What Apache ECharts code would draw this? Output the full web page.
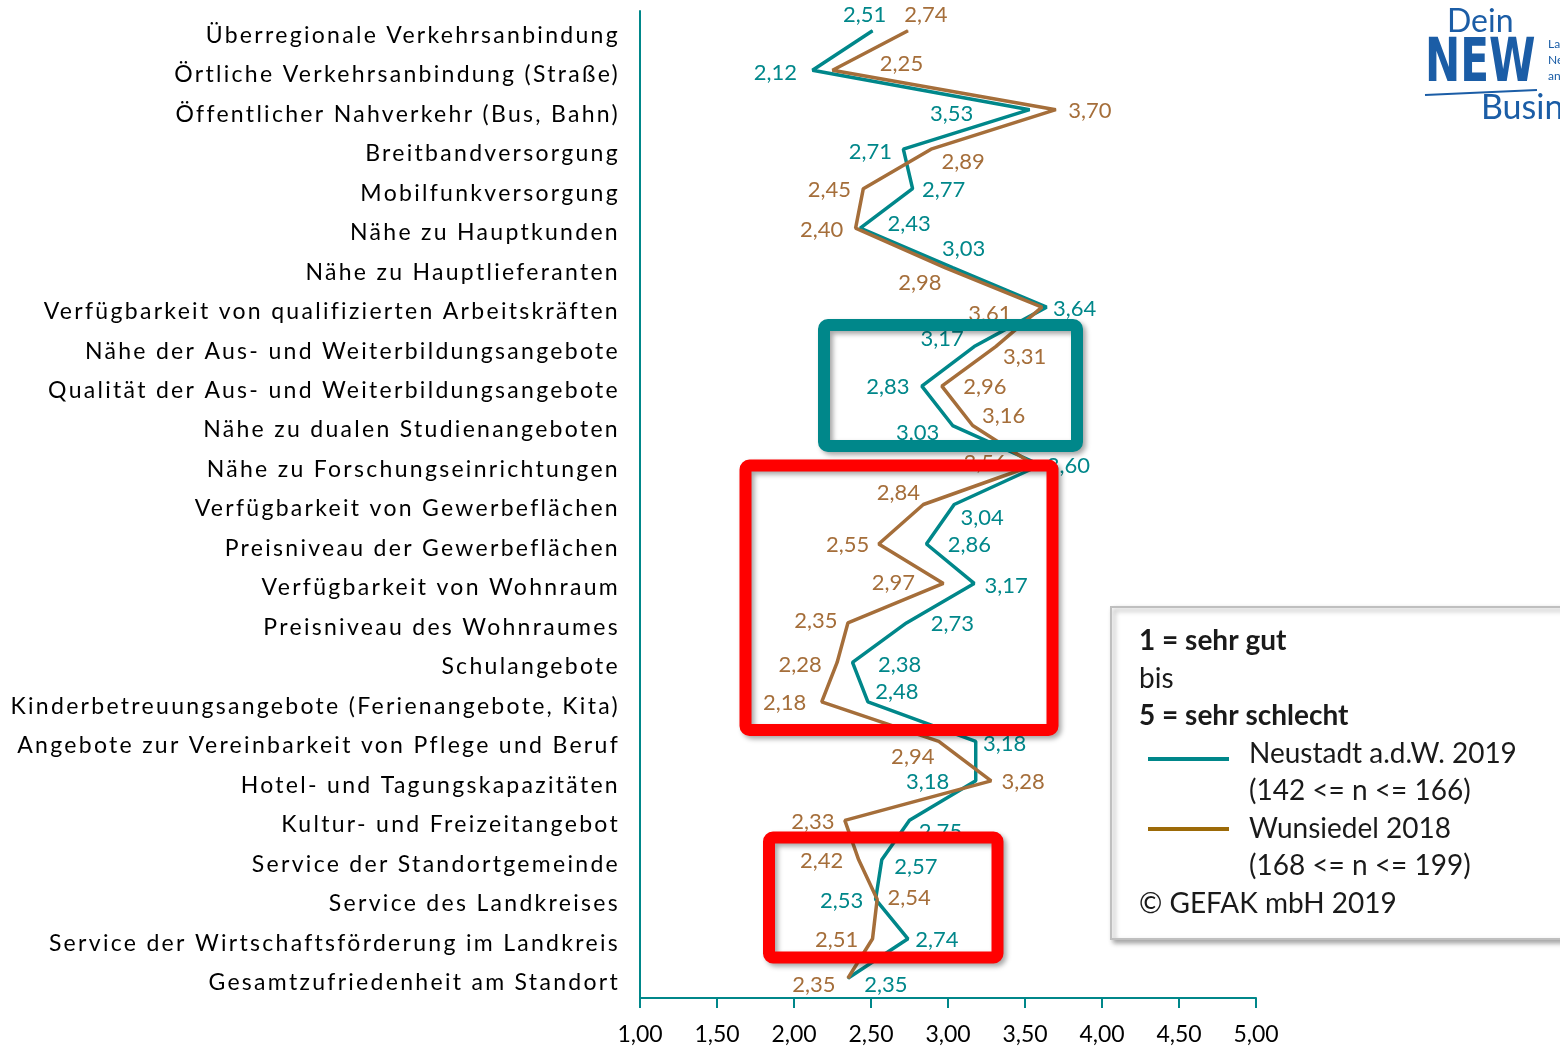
<!DOCTYPE html>
<html><head><meta charset="utf-8">
<script src="https://cdn.jsdelivr.net/npm/echarts@6/dist/echarts.min.js"></script>
<style>html,body{margin:0;padding:0;background:#fff}#c{width:1560px;height:1046px}</style>
</head><body><div id="c"></div>
<script>
const categories = [
  'Überregionale Verkehrsanbindung',
  'Örtliche Verkehrsanbindung (Straße)',
  'Öffentlicher Nahverkehr (Bus, Bahn)',
  'Breitbandversorgung',
  'Mobilfunkversorgung',
  'Nähe zu Hauptkunden',
  'Nähe zu Hauptlieferanten',
  'Verfügbarkeit von qualifizierten Arbeitskräften',
  'Nähe der Aus- und Weiterbildungsangebote',
  'Qualität der Aus- und Weiterbildungsangebote',
  'Nähe zu dualen Studienangeboten',
  'Nähe zu Forschungseinrichtungen',
  'Verfügbarkeit von Gewerbeflächen',
  'Preisniveau der Gewerbeflächen',
  'Verfügbarkeit von Wohnraum',
  'Preisniveau des Wohnraumes',
  'Schulangebote',
  'Kinderbetreuungsangebote (Ferienangebote, Kita)',
  'Angebote zur Vereinbarkeit von Pflege und Beruf',
  'Hotel- und Tagungskapazitäten',
  'Kultur- und Freizeitangebot',
  'Service der Standortgemeinde',
  'Service des Landkreises',
  'Service der Wirtschaftsförderung im Landkreis',
  'Gesamtzufriedenheit am Standort'
];
const neustadt2019 = [2.51,2.12,3.53,2.71,2.77,2.43,3.03,3.64,3.17,2.83,3.03,3.60,3.04,2.86,3.17,2.73,2.38,2.48,3.18,3.18,2.75,2.57,2.53,2.74,2.35];
const wunsiedel2018 = [2.74,2.25,3.70,2.89,2.45,2.40,2.98,3.61,3.31,2.96,3.16,3.56,2.84,2.55,2.97,2.35,2.28,2.18,2.94,3.28,2.33,2.42,2.54,2.51,2.35];
const seriesNames = ['Neustadt a.d.W. 2019', 'Wunsiedel 2018'];
const xMin = 1, xMax = 5, xStep = 0.5;

// label placement offsets (pixels, relative to the point)
const neustadtLabelOffsets = [[-8,-16],[-37,3],[-78,4],[-33,3],[31,1],[49,-4],[11,-19],[28,2],[-32,-8],[-34,1],[-35,7],[28,1],[28,13],[43,1],[32,2],[46,1],[47,2],[29,-10],[29,3],[-48,1],[31,12],[34,7],[-34,2],[29,1],[38,7]];
const wunsiedelLabelOffsets = [[18,-16],[69,-6],[34,1],[32,13],[-34,1],[-34,2],[-25,15],[-52,7],[29,10],[43,1],[31,-10],[-49,-2],[-25,-12],[-31,1],[-50,-1],[-32,-2],[-37,2],[-37,1],[-26,16],[32,1],[-32,2],[-37,1],[32,-1],[-36,1],[-34,7]];

// the category labels of the original are letter-spaced; emulate with canvas letterSpacing
(function () {
  const proto = CanvasRenderingContext2D.prototype;
  if (!('letterSpacing' in proto)) return;
  const orig = proto.fillText;
  proto.fillText = function (t, x, y, w) {
    if (this.font && this.font.indexOf('CatSpaced') >= 0) {
      this.save();
      this.letterSpacing = '2.3px';
      const r = w === undefined ? orig.call(this, t, x, y) : orig.call(this, t, x, y, w);
      this.restore();
      return r;
    }
    return w === undefined ? orig.call(this, t, x, y) : orig.call(this, t, x, y, w);
  };
})();

const TEAL = '#00878A', BROWN = '#A56E3A', LEG_BROWN = '#9C6A08';
const FONT = 'Lato, "Noto Sans", sans-serif';
const CAT_FONT = 'Lato, CatSpaced, "Noto Sans", sans-serif';
const fmt = v => v.toFixed(2).replace('.', ',');

function mkSeries(name, vals, offs, color) {
  return {
    name, type: 'line',
    symbol: 'circle', symbolSize: 1,
    itemStyle: { color },
    lineStyle: { color, width: 3.5 },
    z: 3,
    label: {
      show: true, position: 'inside', color, fontSize: 22, fontFamily: FONT,
      formatter: p => fmt(p.value[0])
    },
    data: vals.map((v, i) => ({ value: [v, categories[i]], label: { offset: offs[i] } }))
  };
}

const chart = echarts.init(document.getElementById('c'));
const shadow = { shadowBlur: 5, shadowOffsetX: 3, shadowOffsetY: 3, shadowColor: 'rgba(0,0,0,0.35)' };
function box(x1, y1, x2, y2, color) {
  return { type: 'rect', z: 100, shape: { x: x1, y: y1, width: x2 - x1, height: y2 - y1, r: 4 },
    style: Object.assign({ fill: null, stroke: color, lineWidth: 12 }, shadow) };
}
const legX = 1139, legY0 = 641, legDy = 37.5;
function legText(txt, x, row, bold) {
  return { type: 'text', z: 101, x, y: legY0 + row * legDy,
    style: { text: txt, fill: '#1a1a1a', font: (bold ? 'bold ' : '') + '28px ' + FONT, textVerticalAlign: 'middle' } };
}
const LOGO = '#1B5DA6';
chart.setOption({
  animation: false,
  backgroundColor: '#fff',
  grid: { left: 640, right: 304, top: 11, bottom: 48, containLabel: false },
  xAxis: {
    type: 'value', min: xMin, max: xMax, interval: xStep,
    axisLine: { show: true, lineStyle: { color: TEAL, width: 2 } },
    axisTick: { show: true, length: 10, lineStyle: { color: TEAL, width: 2 } },
    splitLine: { show: false },
    axisLabel: { color: '#000', fontSize: 23, fontFamily: FONT, margin: 25, formatter: v => fmt(v) }
  },
  yAxis: {
    type: 'category', inverse: true, data: categories,
    axisLine: { show: true, lineStyle: { color: TEAL, width: 2 } },
    axisTick: { show: false },
    axisLabel: { color: '#000', fontSize: 23, fontFamily: CAT_FONT, margin: 20,
      verticalAlign: 'top', lineHeight: 9 }
  },
  series: [
    mkSeries(seriesNames[0], neustadt2019, neustadtLabelOffsets, TEAL),
    mkSeries(seriesNames[1], wunsiedel2018, wunsiedelLabelOffsets, BROWN)
  ],
  graphic: [
    box(824, 325, 1077, 446, TEAL),
    box(745.5, 465.5, 1052.5, 730, '#FF0000'),
    box(769, 837.5, 997.5, 957.5, '#FF0000'),
    { type: 'rect', z: 100, shape: { x: 1111, y: 607, width: 460, height: 332 },
      style: Object.assign({ fill: '#fff', stroke: '#BFBFBF', lineWidth: 2 }, shadow) },
    legText('1 = sehr gut', legX, 0, true),
    legText('bis', legX, 1, false),
    legText('5 = sehr schlecht', legX, 2, true),
    legText(seriesNames[0], 1249, 3, false),
    legText('(142 <= n <= 166)', 1249, 4, false),
    legText(seriesNames[1], 1249, 5, false),
    legText('(168 <= n <= 199)', 1249, 6, false),
    legText('© GEFAK mbH 2019', legX, 7, false),
    { type: 'line', z: 101, shape: { x1: 1148, y1: 759, x2: 1229, y2: 759 }, style: { stroke: TEAL, lineWidth: 4 } },
    { type: 'line', z: 101, shape: { x1: 1148, y1: 829, x2: 1229, y2: 829 }, style: { stroke: LEG_BROWN, lineWidth: 4 } },
    // logo
    { type: 'text', z: 101, x: 1447, y: 22, style: { text: 'Dein', fill: LOGO, font: '32px ' + FONT, textVerticalAlign: 'middle' } },
    { type: 'text', z: 101, x: 1425, y: 65, scaleX: 0.78, style: { text: 'NEW', fill: LOGO, font: 'bold 60px "Liberation Sans Narrow", "DejaVu Sans Condensed", sans-serif', textVerticalAlign: 'middle' } },
    { type: 'line', z: 101, shape: { x1: 1425, y1: 95, x2: 1537, y2: 90 }, style: { stroke: LOGO, lineWidth: 2 } },
    { type: 'text', z: 101, x: 1548, y: 44, style: { text: 'Landkreis', fill: LOGO, font: '12px ' + FONT, textVerticalAlign: 'middle' } },
    { type: 'text', z: 101, x: 1548, y: 60, style: { text: 'Neustadt', fill: LOGO, font: '12px ' + FONT, textVerticalAlign: 'middle' } },
    { type: 'text', z: 101, x: 1548, y: 76, style: { text: 'an der Waldnaab', fill: LOGO, font: '12px ' + FONT, textVerticalAlign: 'middle' } },
    { type: 'text', z: 101, x: 1481, y: 108, style: { text: 'Business', fill: LOGO, font: '34px ' + FONT, textVerticalAlign: 'middle' } }
  ]
});
</script></body></html>
